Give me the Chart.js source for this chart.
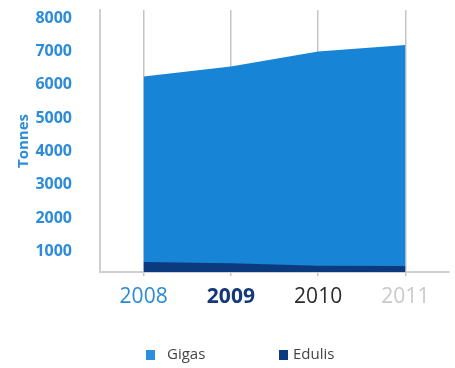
<!DOCTYPE html>
<html>
<head>
<meta charset="utf-8">
<script src="https://cdn.jsdelivr.net/npm/chart.js@4"></script>
<style>
  html, body { margin: 0; padding: 0; background: #fff; }
  #wrap { width: 455px; height: 368px; }
</style>
</head>
<body>
<div id="wrap"><canvas id="grafica" width="455" height="368"></canvas></div>
<script>
const years = ["2008", "2009", "2010", "2011"];
const gigas = [6250, 6550, 7000, 7200];
const edulis = [680, 640, 570, 560];
const yTicks = [1000, 2000, 3000, 4000, 5000, 6000, 7000, 8000];

const yearColors = ["#2a8ad8", "#14387a", "#2b2b2b", "#c9c9c9"];
const yearWeights = ["normal", "bold", "normal", "normal"];

const blue = "#1884d6";
const navy = "#0c3a7e";

Chart.defaults.font.family = "'Open Sans', sans-serif";

// legend drawn by hand below the axis
const legendBottom = {
  id: "legendBottom",
  afterDraw(chart) {
    const c = chart.ctx;
    const spots = [{ box: 146, text: 167 }, { box: 279, text: 293 }];
    const boxColors = ["#2b8fdd", navy];
    c.save();
    c.font = "15px 'Open Sans', sans-serif";
    c.textBaseline = "middle";
    chart.data.datasets.forEach((ds, i) => {
      c.fillStyle = boxColors[i];
      c.fillRect(spots[i].box, 350, 9, 10);
      c.fillStyle = "#444";
      c.fillText(ds.label, spots[i].text, 355);
    });
    c.restore();
  }
};

const ctx = document.getElementById("grafica").getContext("2d");
new Chart(ctx, {
  type: "line",
  data: {
    labels: years,
    datasets: [
      { label: "Gigas", data: gigas, backgroundColor: blue, borderWidth: 0, fill: "start", pointRadius: 0, tension: 0, order: 2 },
      { label: "Edulis", data: edulis, backgroundColor: navy, borderWidth: 0, fill: "start", pointRadius: 0, tension: 0, order: 1 }
    ]
  },
  options: {
    responsive: false,
    animation: false,
    layout: { padding: { top: 10, right: 6, bottom: 0, left: 0 } },
    plugins: {
      legend: { display: false },
      tooltip: { enabled: false }
    },
    scales: {
      x: {
        offset: true,
        grid: { offset: false, color: "#c4c4c4", lineWidth: 1.5, tickLength: 4 },
        border: { color: "#cfcfcf", width: 2 },
        ticks: {
          padding: 8,
          color: c => yearColors[c.index],
          font: c => ({ size: 21, weight: yearWeights[c.index] })
        },
        afterFit: s => { s.height = 96; }
      },
      y: {
        min: 380,
        max: 8250,
        grid: { display: false },
        border: { color: "#cfcfcf", width: 2 },
        afterBuildTicks: s => { s.ticks = yTicks.map(v => ({ value: v })); },
        ticks: {
          padding: 20,
          color: "#2d8cd8",
          font: { size: 16, weight: "bold" },
          callback: v => String(v)
        },
        title: { display: true, text: "Tonnes", color: "#2d8cd8", font: { size: 15, weight: "bold" }, padding: { top: 15 } },
        afterFit: s => { s.width = 100; s.paddingTop = 0; s.paddingBottom = 0; }
      }
    }
  },
  plugins: [legendBottom]
});
</script>
</body>
</html>
